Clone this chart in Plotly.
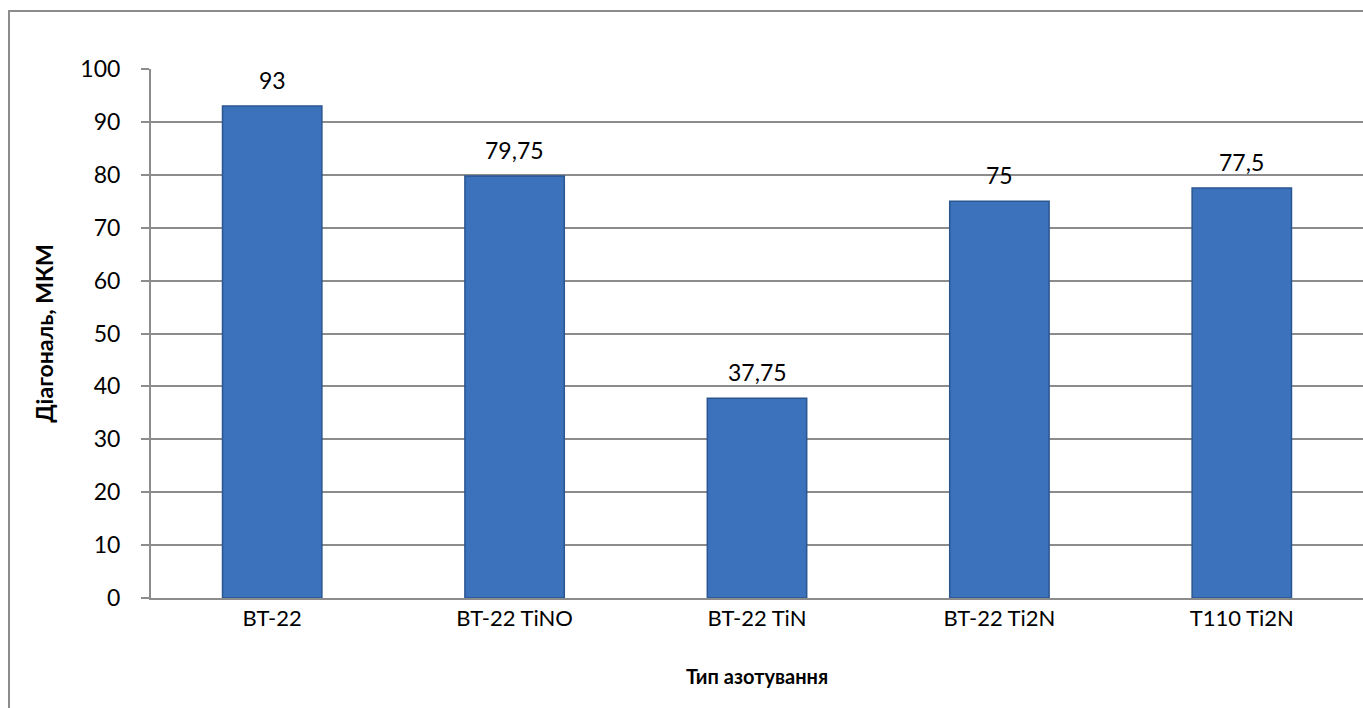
import plotly.graph_objects as go

categories = ["BT-22", "BT-22 TiNO", "BT-22 TiN", "BT-22 Ti2N", "T110 Ti2N"]
diagonal = [93, 79.75, 37.75, 75, 77.5]
value_labels = ["93", "79,75", "37,75", "75", "77,5"]
y_ticks = [0, 10, 20, 30, 40, 50, 60, 70, 80, 90, 100]

FONT = "Lato"
GRID = "#8c8c8c"

fig = go.Figure()
fig.add_trace(go.Bar(
    x=categories,
    y=diagonal,
    marker=dict(color="#3b72bb", line=dict(color="#2a5690", width=1.5)),
    hoverinfo="x+y",
))

# value labels above each bar
for cat, val, lab in zip(categories, diagonal, value_labels):
    fig.add_annotation(
        x=cat, y=val, text=lab, showarrow=False,
        yshift=26, font=dict(family=FONT, size=23, color="#000000"),
    )

fig.update_layout(
    width=1363,
    height=708,
    margin=dict(l=151, r=0, t=69, b=110),
    paper_bgcolor="#ffffff",
    plot_bgcolor="#ffffff",
    bargap=0.59,
    showlegend=False,
    font=dict(family=FONT, color="#000000"),
)

fig.update_xaxes(
    showgrid=False,
    showline=True,
    linecolor=GRID,
    linewidth=2,
    ticks="",
    tickfont=dict(family=FONT, size=22),
    title=dict(text="<b>Тип азотування</b>", font=dict(family=FONT, size=20), standoff=40),
)

fig.update_yaxes(
    range=[0, 100],
    tickvals=y_ticks,
    showgrid=True,
    gridcolor=GRID,
    gridwidth=2,
    showline=True,
    linecolor=GRID,
    linewidth=2,
    ticks="outside",
    ticklen=8,
    tickcolor=GRID,
    tickwidth=2,
    ticklabelstandoff=16,
    zeroline=False,
    tickfont=dict(family=FONT, size=23),
    title=dict(text="<b>Діагональ, МКМ</b>", font=dict(family=FONT, size=23), standoff=20),
)

# outer chart frame
fig.add_shape(
    type="rect", xref="paper", yref="paper",
    x0=(9 - 151) / 1212, x1=1.02,
    y0=-0.3, y1=(598 - 11) / 529,
    line=dict(color="#8c8c8c", width=2),
    fillcolor="rgba(0,0,0,0)",
    layer="below",
)

fig.write_html("out.html")
